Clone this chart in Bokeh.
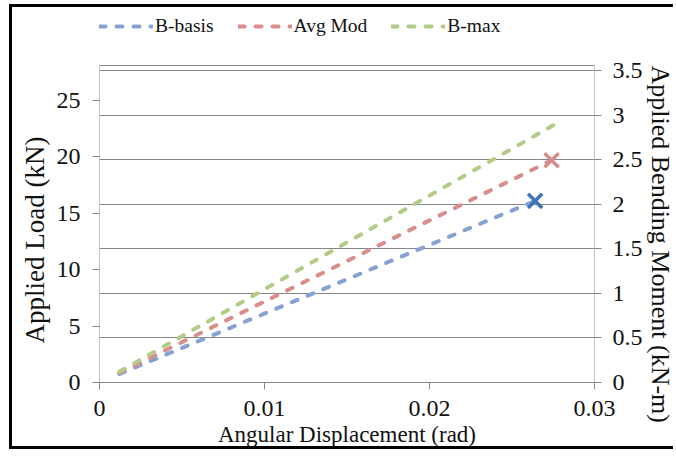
from bokeh.plotting import figure
from bokeh.models import (Range1d, LinearAxis, FixedTicker, Grid, Legend, LegendItem, Title,
                          BoxAnnotation)
from bokeh.embed import file_html
from bokeh.resources import INLINE

# ---- data ----
series_names = ["B-basis", "Avg Mod", "B-max"]
bbasis_x = [0.0012, 0.005, 0.010, 0.015, 0.020, 0.0264]
bbasis_y = [0.75, 3.06, 6.11, 9.15, 12.2, 16.1]
avgmod_x = [0.0012, 0.005, 0.010, 0.015, 0.020, 0.0274]
avgmod_y = [0.85, 3.58, 7.18, 10.77, 14.37, 19.7]
bmax_x = [0.0012, 0.005, 0.010, 0.015, 0.020, 0.0275]
bmax_y = [0.95, 4.11, 8.26, 12.42, 16.57, 22.8]
fail_x = [0.0264, 0.0274]
fail_y = [16.1, 19.7]

x_ticks = [0, 0.01, 0.02, 0.03]
left_ticks = [0, 5, 10, 15, 20, 25]
right_ticks = [0, 0.5, 1, 1.5, 2, 2.5, 3, 3.5]
x_labels = {0: "0", 0.01: "0.01", 0.02: "0.02", 0.03: "0.03"}
right_labels = {0: "0", 0.5: "0.5", 1: "1", 1.5: "1.5", 2: "2", 2.5: "2.5", 3: "3", 3.5: "3.5"}
load_max = 28.1
moment_max = 3.556

FONT = "'Liberation Serif', serif"
AX = "#868686"
line_colors = ["#86a2d2", "#d98e8c", "#b2cc88"]
marker_colors = ["#3c74b8", "#d88c8a"]

# frame is extended upward so that the legend (above the plot box) is inside it
extra = 372.0 / 317.0
p = figure(width=664, height=445, output_backend="svg", toolbar_location=None,
           x_range=Range1d(0, 0.03), y_range=Range1d(0, load_max * extra),
           min_border_left=87, min_border_right=79, min_border_top=3,
           min_border_bottom=70)
p.margin = (4, 0, 0, 9)
p.styles = {"border-left": "3px solid black", "border-top": "3px solid black",
            "border-bottom": "3px solid black", "border-right": "none"}
p.extra_y_ranges = {"moment": Range1d(0, moment_max * extra)}
p.background_fill_color = "white"
p.border_fill_color = "white"
p.outline_line_color = None
p.xgrid.visible = False
p.ygrid.visible = False

def style_axis(ax, size):
    ax.axis_line_color = AX
    ax.major_tick_line_color = AX
    ax.minor_tick_line_color = None
    ax.major_tick_out = 7
    ax.major_tick_in = 0
    ax.major_label_text_font = FONT
    ax.major_label_text_font_size = size
    ax.major_label_text_color = "#111111"
    ax.axis_label_text_font = FONT
    ax.axis_label_text_font_style = "normal"
    ax.axis_label_text_color = "#111111"

xa = p.xaxis[0]
style_axis(xa, "24px")
xa.ticker = FixedTicker(ticks=x_ticks)
xa.major_label_overrides = x_labels
xa.axis_label = "Angular Displacement (rad)"
xa.axis_label_text_font_size = "23px"
xa.major_label_standoff = 11
xa.axis_label_standoff = 3

ya = p.yaxis[0]
style_axis(ya, "24px")
ya.axis_line_color = None
ya.ticker = FixedTicker(ticks=left_ticks)
ya.major_label_standoff = 12

ra = LinearAxis(y_range_name="moment")
style_axis(ra, "24px")
ra.axis_line_color = None
ra.ticker = FixedTicker(ticks=right_ticks)
ra.major_label_overrides = right_labels
ra.major_label_standoff = 11
p.add_layout(ra, "right")

left_title = Title(text="Applied Load (kN)", align="left", offset=39, standoff=8,
                   text_font=FONT, text_font_size="27px", text_font_style="normal",
                   text_color="#111111")
p.add_layout(left_title, "left")
right_title = Title(text="Applied Bending Moment (kN-m)", align="left", offset=55, standoff=0,
                    text_font=FONT, text_font_size="26px", text_font_style="normal",
                    text_color="#111111")
p.add_layout(right_title, "right")

# plot box (the visible plot area: x 0..0.03, load 0..28.1)
box = BoxAnnotation(left=0, right=0.03, bottom=0, top=load_max, fill_alpha=0,
                    line_color=AX, line_width=1, line_alpha=1, level="underlay")
p.add_layout(box)

grid = Grid(dimension=1, ticker=FixedTicker(ticks=right_ticks[1:]), y_range_name="moment",
            grid_line_color=AX, grid_line_width=1)
p.add_layout(grid)

dash = "6 11"
r1 = p.line(bbasis_x, bbasis_y, line_color=line_colors[0], line_width=4, line_dash=dash, line_cap="round")
r2 = p.line(avgmod_x, avgmod_y, line_color=line_colors[1], line_width=4, line_dash=dash, line_cap="round")
r3 = p.line(bmax_x, bmax_y, line_color=line_colors[2], line_width=4, line_dash=dash, line_cap="round")
p.scatter(fail_x, fail_y, marker="x", size=20, line_width=3.5, line_color=marker_colors)

legend = Legend(items=[LegendItem(label=series_names[0], renderers=[r1]),
                       LegendItem(label=series_names[1], renderers=[r2]),
                       LegendItem(label=series_names[2], renderers=[r3])],
                orientation="horizontal", location=(0, 345),
                margin=0, padding=0, spacing=24, glyph_width=54, glyph_height=20,
                label_standoff=2, label_height=20,
                label_text_font=FONT, label_text_font_size="19.5px",
                label_text_color="#111111",
                background_fill_alpha=0, border_line_color=None)
p.add_layout(legend, "center")

open("out.html", "w").write(file_html(p, INLINE))
